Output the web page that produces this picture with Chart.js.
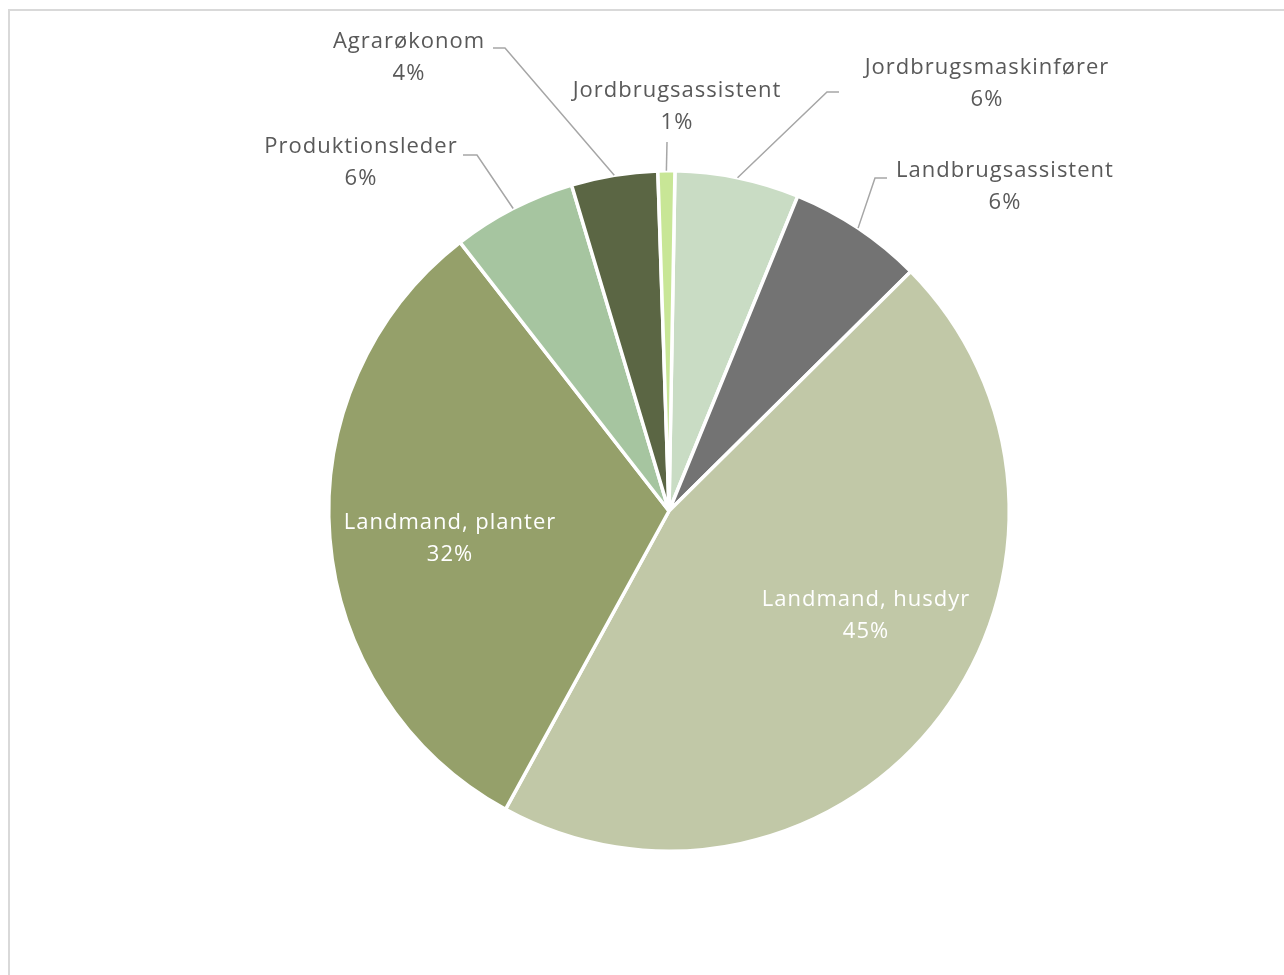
<!DOCTYPE html>
<html>
<head>
<meta charset="utf-8">
<script src="https://cdn.jsdelivr.net/npm/chart.js@4"></script>
<style>
  html, body { margin: 0; padding: 0; background: #fff; overflow: hidden; }
  #frame { position: absolute; left: 8px; top: 9px; width: 1400px; height: 1100px; border: 2px solid #d9d9d9; box-sizing: border-box; }
  #wrap { position: absolute; left: 0; top: 0; width: 1284px; height: 975px; }
</style>
</head>
<body>
<div id="frame"></div>
<div id="wrap"><canvas id="c" width="1284" height="975"></canvas></div>
<script>
// ---- data ----
const categories = ["Jordbrugsmaskinfører", "Landbrugsassistent", "Landmand, husdyr", "Landmand, planter", "Produktionsleder", "Agrarøkonom", "Jordbrugsassistent"];
const shares = [5.9, 6.4, 45.4, 31.5, 5.9, 4.1, 0.8];
const colors = ["#c9dcc4", "#737373", "#c1c8a7", "#95a06a", "#a6c5a0", "#5b6644", "#c8e696"];

// ---- label layout (positions only) ----
const labelLayout = [
  { x: 987, y: 68,  inside: false, start: [839, 92],  elbow: [827, 92] },
  { x: 1005, y: 171, inside: false, start: [887, 178], elbow: [875, 178] },
  { x: 866, y: 600, inside: true },
  { x: 450, y: 523, inside: true },
  { x: 361, y: 147, inside: false, start: [463, 155], elbow: [477, 155] },
  { x: 409, y: 42,  inside: false, start: [493, 48],  elbow: [505, 48] },
  { x: 677, y: 91,  inside: false, start: [667, 142], elbow: [667, 142] }
];
const fontFamily = "'Open Sans', 'Noto Sans', sans-serif";
const fontSize = 22;
const letterSpacing = '1px';
const lineGap = 32;

const labelPlugin = {
  id: 'pieLabels',
  afterDatasetsDraw(chart) {
    const ctx = chart.ctx;
    const meta = chart.getDatasetMeta(0);
    const vals = chart.data.datasets[0].data;
    const total = vals.reduce((a, b) => a + b, 0);
    ctx.save();
    ctx.font = fontSize + 'px ' + fontFamily;
    try { ctx.letterSpacing = letterSpacing; } catch (e) {}
    ctx.textAlign = 'center';
    ctx.textBaseline = 'middle';
    meta.data.forEach((arc, i) => {
      const L = labelLayout[i];
      const pct = Math.round(vals[i] / total * 100) + '%';
      if (!L.inside) {
        const p = arc.getProps(['x', 'y', 'startAngle', 'endAngle', 'outerRadius'], true);
        const mid = (p.startAngle + p.endAngle) / 2;
        const ex = p.x + Math.cos(mid) * p.outerRadius;
        const ey = p.y + Math.sin(mid) * p.outerRadius;
        ctx.strokeStyle = '#a6a6a6';
        ctx.lineWidth = 1.5;
        ctx.beginPath();
        ctx.moveTo(L.start[0], L.start[1]);
        ctx.lineTo(L.elbow[0], L.elbow[1]);
        ctx.lineTo(ex, ey);
        ctx.stroke();
      }
      ctx.fillStyle = L.inside ? '#ffffff' : '#595959';
      ctx.fillText(chart.data.labels[i], L.x, L.y);
      ctx.fillText(pct, L.x, L.y + lineGap);
    });
    ctx.restore();
  }
};

new Chart(document.getElementById('c'), {
  type: 'pie',
  data: {
    labels: categories,
    datasets: [{
      data: shares,
      backgroundColor: colors,
      borderColor: '#ffffff',
      borderWidth: 3.5
    }]
  },
  options: {
    responsive: false,
    animation: false,
    rotation: 1,
    layout: { padding: { left: 327, right: 273, top: 169, bottom: 122 } },
    plugins: { legend: { display: false }, tooltip: { enabled: false }, title: { display: false } }
  },
  plugins: [labelPlugin]
});
</script>
</body>
</html>
